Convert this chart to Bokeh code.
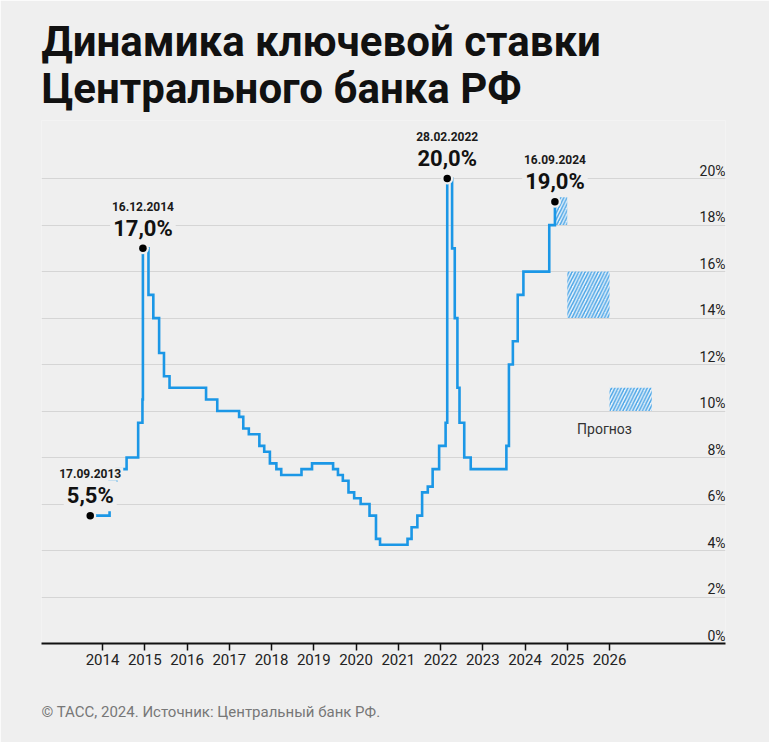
import pandas as pd
from bokeh.plotting import figure
from bokeh.models import Range1d, FixedTicker, Grid, Title, Label, ColumnDataSource
from bokeh.embed import file_html
from bokeh.resources import INLINE
from bokeh.core.properties import value

# ---------------- data ----------------
change_dates = [
    "17.09.2013", "03.03.2014", "28.04.2014", "28.07.2014", "05.11.2014", "12.12.2014",
    "16.12.2014", "02.02.2015", "16.03.2015", "05.05.2015", "16.06.2015", "03.08.2015",
    "14.06.2016", "19.09.2016", "27.03.2017", "02.05.2017", "19.06.2017", "18.09.2017",
    "30.10.2017", "18.12.2017", "12.02.2018", "26.03.2018", "17.09.2018", "17.12.2018",
    "17.06.2019", "29.07.2019", "09.09.2019", "28.10.2019", "16.12.2019", "10.02.2020",
    "27.04.2020", "22.06.2020", "27.07.2020", "22.03.2021", "26.04.2021", "15.06.2021",
    "26.07.2021", "13.09.2021", "25.10.2021", "20.12.2021", "14.02.2022", "28.02.2022",
    "11.04.2022", "04.05.2022", "27.05.2022", "14.06.2022", "25.07.2022", "19.09.2022",
    "24.07.2023", "15.08.2023", "18.09.2023", "30.10.2023", "18.12.2023", "29.07.2024",
    "16.09.2024",
]
key_rates = [
    5.5, 7.0, 7.5, 8.0, 9.5, 10.5,
    17.0, 15.0, 14.0, 12.5, 11.5, 11.0,
    10.5, 10.0, 9.75, 9.25, 9.0, 8.5,
    8.25, 7.75, 7.5, 7.25, 7.5, 7.75,
    7.5, 7.25, 7.0, 6.5, 6.25, 6.0,
    5.5, 4.5, 4.25, 4.5, 5.0, 5.5,
    6.5, 6.75, 7.5, 8.5, 9.5, 20.0,
    17.0, 14.0, 11.0, 9.5, 8.0, 7.5,
    8.5, 12.0, 13.0, 15.0, 16.0, 18.0,
    19.0,
]

peak_dates = ["17.09.2013", "16.12.2014", "28.02.2022", "16.09.2024"]
peak_rates = [5.5, 17.0, 20.0, 19.0]
peak_labels = ["5,5%", "17,0%", "20,0%", "19,0%"]

forecast_start = ["16.09.2024", "01.01.2025", "01.01.2026"]
forecast_end = ["01.01.2025", "01.01.2026", "01.01.2027"]
forecast_low = [18.0, 14.0, 10.0]
forecast_high = [19.4, 16.0, 11.0]
forecast_label = "Прогноз"

years = list(range(2014, 2027))
pct_ticks = list(range(0, 21, 2))
pct_labels = [f"{t}%" for t in pct_ticks]

title_text = "Динамика ключевой ставки\nЦентрального банка РФ"
footer_text = "© ТАСС, 2024. Источник: Центральный банк РФ."


def dec_year(s):
    t = pd.to_datetime(s, format="%d.%m.%Y")
    n = 366 if t.is_leap_year else 365
    return t.year + (t.dayofyear - 1) / n


BG = "#efefef"
BLUE = "#1b97e6"
FONT = "Roboto"

x_start, x_end = 2012.556, 2028.745
p = figure(
    width=769, height=742,
    x_range=Range1d(x_start, x_end), y_range=Range1d(0, 22.5),
    y_axis_location=None, x_axis_location="below",
    toolbar_location=None, output_backend="svg",
    min_border_left=41, min_border_right=44, min_border_top=120, min_border_bottom=99,
    background_fill_color=BG, border_fill_color=BG,
    outline_line_color=None, title=None,
)
p.grid.visible = False
p.add_layout(Grid(dimension=1, ticker=FixedTicker(ticks=pct_ticks),
                  grid_line_color="#d5d5d5", grid_line_width=1), "center")

# x axis
ax = p.xaxis[0]
ax.ticker = FixedTicker(ticks=years)
ax.major_label_overrides = {y: str(y) for y in years}
ax.axis_line_color = "#111111"
ax.axis_line_width = 2
ax.major_tick_line_color = "#111111"
ax.major_tick_line_width = 1.5
ax.major_tick_out = 7
ax.major_tick_in = 0
ax.minor_tick_line_color = None
ax.major_label_text_font = FONT
ax.major_label_text_font_size = "15px"
ax.major_label_text_color = "#222222"
ax.major_label_standoff = 3

# forecast hatched boxes
fsrc = ColumnDataSource(dict(
    left=[dec_year(d) for d in forecast_start],
    right=[dec_year(d) for d in forecast_end],
    bottom=forecast_low, top=forecast_high,
))
p.quad(left="left", right="right", bottom="bottom", top="top", source=fsrc,
       fill_color="#e9f2fa", fill_alpha=1.0, line_color=None,
       hatch_pattern="/", hatch_color="#4aa5e6", hatch_scale=6.5, hatch_weight=1.5)

# step line
xs = [dec_year(d) for d in change_dates]
p.step(xs, key_rates, mode="after", line_color=BLUE, line_width=2.6, line_join="miter")

# right percent labels
p.text(x=[x_end] * len(pct_ticks), y=pct_ticks, text=pct_labels,
       text_align="right", text_baseline="alphabetic", y_offset=-8,
       text_font=value(FONT), text_font_size="14px", text_color="#222222")

# peak dots with halo
px = [dec_year(d) for d in peak_dates]
p.scatter(px, peak_rates, size=12, fill_color=BG, line_color=None)
p.scatter(px, peak_rates, size=7.5, fill_color="#000000", line_color=None)

for xv, yv, dl, vl in zip(px, peak_rates, peak_dates, peak_labels):
    p.add_layout(Label(x=xv, y=yv, text=dl, y_offset=42, text_align="center",
                       text_baseline="alphabetic", text_font=FONT, text_font_size="12px",
                       text_font_style="bold", text_color="#1a1a1a",
                       background_fill_color=BG, padding=2))
    p.add_layout(Label(x=xv, y=yv, text=vl, y_offset=20, text_align="center",
                       text_baseline="alphabetic", text_font=FONT, text_font_size="22px",
                       text_font_style="bold", text_color="#111111",
                       background_fill_color=BG, padding=3))

# forecast label
p.add_layout(Label(x=dec_year(forecast_start[2]), y=forecast_low[2], text=forecast_label,
                   x_offset=-5, y_offset=-18, text_align="center", text_baseline="alphabetic",
                   text_font=FONT, text_font_size="14px", text_color="#333333"))

# title
p.add_layout(Title(text=title_text, align="left", offset=0, text_font=FONT,
                   text_font_size="42px", text_font_style="bold", text_color="#111111",
                   text_line_height=0.97, standoff=14), "above")

# footer (leading empty line pushes the text lower inside the bottom border)
p.add_layout(Title(text="\n" + footer_text, align="left", offset=0, text_font=FONT,
                   text_font_size="15px", text_font_style="normal", text_color="#777777",
                   standoff=31), "below")

open("out.html", "w").write(file_html(p, INLINE))
